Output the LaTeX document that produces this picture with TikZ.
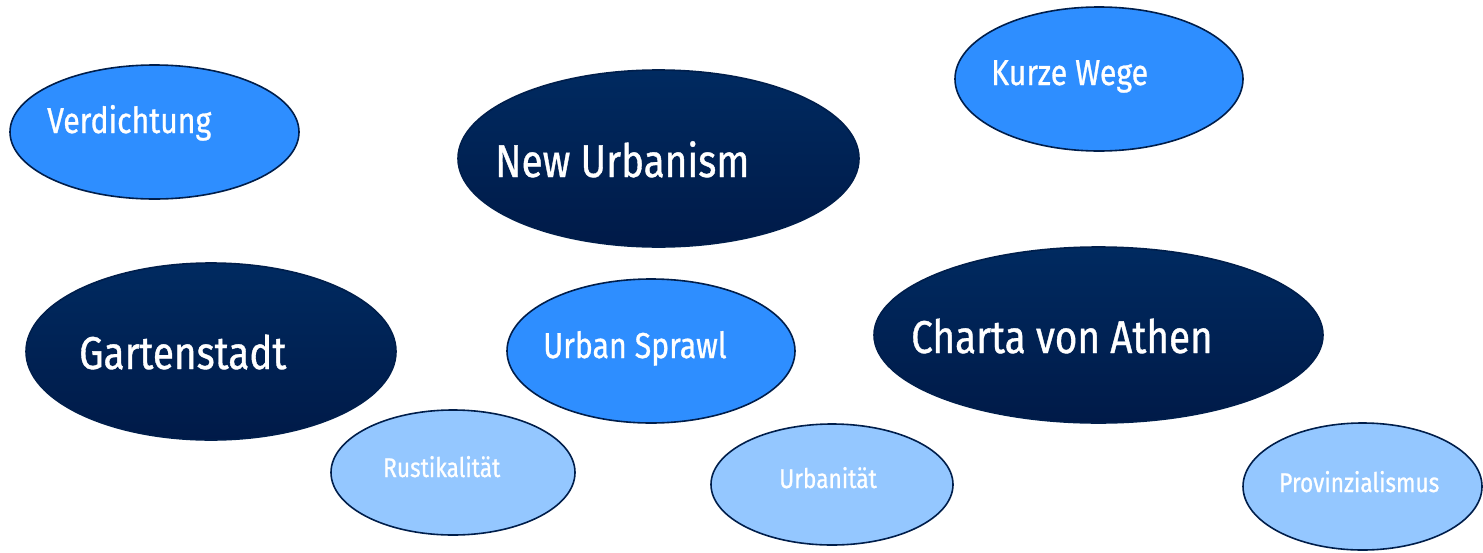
\documentclass[tikz,border=0pt]{standalone}
\usepackage{fontspec}
\setmainfont{Fira Sans}[FakeStretch=0.84, FakeBold=0.8]
\usetikzlibrary{shapes.geometric}
\definecolor{midblue}{RGB}{46,142,255}
\definecolor{lightblue}{RGB}{148,199,255}
\definecolor{darktop}{RGB}{0,42,96}
\definecolor{darkbot}{RGB}{0,26,72}
\definecolor{edge}{RGB}{0,30,75}
\tikzset{
  blob/.style={ellipse, draw=edge, line width=1.6pt, inner sep=0pt},
  midblob/.style={blob, fill=midblue},
  lightblob/.style={blob, fill=lightblue},
  darkblob/.style={blob, top color=darktop, bottom color=darkbot},
  lbl/.style={anchor=base west, text=white, inner sep=0pt},
  big/.style={lbl, font=\fontsize{46}{50}\selectfont},
  med/.style={lbl, font=\fontsize{36}{40}\selectfont},
  small/.style={lbl, font=\fontsize{27}{30}\selectfont},
}
\begin{document}
\begin{tikzpicture}[x=1pt,y=-1pt]
\useasboundingbox (0,0) rectangle (1483,552);
\node[midblob, minimum width=289pt, minimum height=134pt] (e1) at (154.5,132) {};
\node[med] (t1) at (47,133) {Verdichtung};
\node[darkblob, minimum width=401pt, minimum height=177pt] (e2) at (658.5,158.5) {};
\node[big] (t2) at (495,177) {New Urbanism};
\node[midblob, minimum width=288pt, minimum height=144pt] (e3) at (1099,79) {};
\node[med] (t3) at (991,85) {Kurze Wege};
\node[darkblob, minimum width=370pt, minimum height=177pt] (e4) at (211,351.5) {};
\node[big] (t4) at (79,369) {Gartenstadt};
\node[midblob, minimum width=288pt, minimum height=144pt] (e5) at (651,351) {};
\node[med] (t5) at (543,358) {Urban Sprawl};
\node[darkblob, minimum width=449pt, minimum height=176pt] (e6) at (1098.5,335) {};
\node[big] (t6) at (911,353) {Charta von Athen};
\node[lightblob, minimum width=244pt, minimum height=125pt] (e7) at (453,472.5) {};
\node[small] (t7) at (383,477) {Rustikalität};
\node[lightblob, minimum width=242pt, minimum height=121pt] (e8) at (832,484.5) {};
\node[small] (t8) at (779,488) {Urbanität};
\node[lightblob, minimum width=239pt, minimum height=127pt] (e9) at (1362.5,486.5) {};
\node[small] (t9) at (1279,492) {Provinzialismus};
\end{tikzpicture}
\end{document}
